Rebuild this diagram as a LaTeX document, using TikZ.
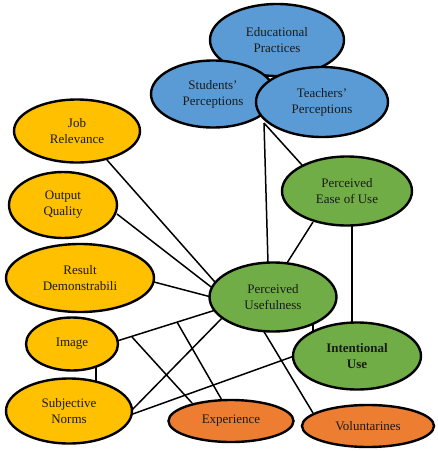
\documentclass[tikz,border=0pt]{standalone}
\usepackage{fontspec}
\setmainfont{Liberation Serif}
\usetikzlibrary{shapes.geometric}
\definecolor{cblue}{HTML}{5B9BD5}
\definecolor{cyel}{HTML}{FFC000}
\definecolor{cgreen}{HTML}{70AD47}
\definecolor{corange}{HTML}{ED7D31}
\definecolor{ctext}{HTML}{1A1A1A}
\tikzset{
  ell/.style={ellipse, draw=black, line width=2.4pt, inner sep=0pt, align=center,
    font=\fontsize{13}{16}\selectfont, text=ctext},
  blueell/.style={ell, fill=cblue},
  yelell/.style={ell, fill=cyel},
  greenell/.style={ell, fill=cgreen},
  orell/.style={ell, fill=corange},
  conn/.style={line width=1.5pt, draw=black}
}
\begin{document}
\begin{tikzpicture}[x=1pt,y=-1pt]
\useasboundingbox (0,0) rectangle (438,451);
% coordinates for connector ends
\coordinate (tp) at (264,123);
\coordinate (imgA) at (132,337);
\coordinate (imgB) at (177,322);
% connectors (behind)
\draw[conn] (tp) -- (268,263) coordinate (puTop);
\draw[conn] (tp) -- (302,165) coordinate (peuTL);
\draw[conn] (107,160) coordinate (jrE) -- (222,290) coordinate (pu1);
\draw[conn] (117,214) coordinate (oqE) -- (215,290) coordinate (pu2);
\draw[conn] (154,282) coordinate (rdE) -- (215,298) coordinate (pu3);
\draw[conn] (117,341) coordinate (imE) -- (222,308) coordinate (pu4);
\draw[conn] (imgA) -- (192,403) coordinate (ex1);
\draw[conn] (imgB) -- (223,402) coordinate (ex2);
\draw[conn] (130,412) coordinate (sn1) -- (225,315) coordinate (pu5);
\draw[conn] (130,415) coordinate (sn2) -- (297,355) coordinate (iu1);
\draw[conn] (96,366) coordinate (im2) -- (96,381) coordinate (sn3);
\draw[conn] (263,330) coordinate (pu6) -- (313,413) coordinate (vo1);
\draw[conn] (313,322) coordinate (pu7) -- (313,332) coordinate (iu2);
\draw[conn] (352,224) coordinate (peu1) -- (352,325) coordinate (iu3);
\draw[conn] (313,222) coordinate (peu2) -- (287,263) coordinate (pu8);
% nodes
\node[blueell, minimum width=134pt, minimum height=72pt] (edu) at (277,40) {Educational\\Practices};
\node[blueell, minimum width=124pt, minimum height=67pt] (stu) at (213,94) {Students'\\Perceptions};
\node[blueell, minimum width=132pt, minimum height=70pt] (tea) at (322,102) {Teachers'\\Perceptions};
\node[yelell, minimum width=126pt, minimum height=63pt] (jr) at (77,131) {Job\\Relevance};
\node[yelell, minimum width=108pt, minimum height=66pt] (oq) at (63,205) {Output\\Quality};
\node[yelell, minimum width=148pt, minimum height=68pt] (rd) at (80,278) {Result\\Demonstrabili};
\node[yelell, minimum width=92pt, minimum height=53pt] (im) at (72,344) {Image};
\node[yelell, minimum width=126pt, minimum height=65pt] (sn) at (69,411) {Subjective\\Norms};
\node[greenell, minimum width=130pt, minimum height=69pt] (peu) at (347,191) {Perceived\\Ease of Use};
\node[greenell, minimum width=127pt, minimum height=69pt] (pu) at (273,297) {Perceived\\Usefulness};
\node[greenell, minimum width=128pt, minimum height=67pt, font=\fontsize{13}{16}\selectfont\bfseries] (iu) at (357,356) {Intentional\\Use};
\node[orell, minimum width=125pt, minimum height=42pt] (ex) at (231,421) {Experience};
\node[orell, minimum width=132pt, minimum height=42pt] (vo) at (368,426) {Voluntarines};
\end{tikzpicture}
\end{document}
